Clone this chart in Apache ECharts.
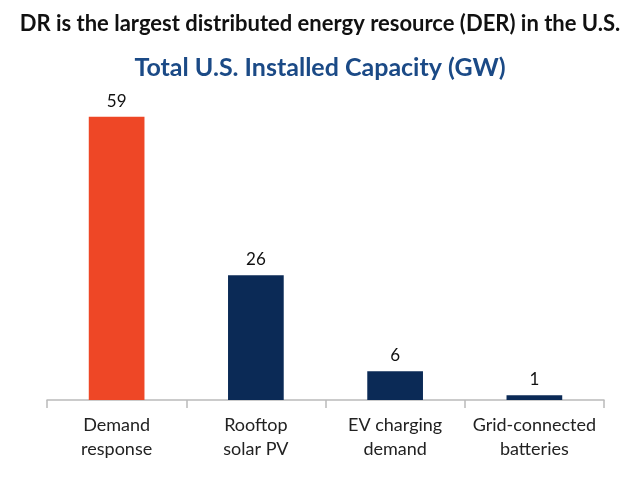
<!DOCTYPE html>
<html>
<head>
<meta charset="utf-8">
<script src="https://cdn.jsdelivr.net/npm/echarts@6/dist/echarts.min.js"></script>
<style>
  html, body { margin: 0; padding: 0; background: #fff; }
  #main { width: 640px; height: 480px; }
</style>
</head>
<body>
<div id="main"></div>
<script>
// 类别、数值
const categories = ['Demand\nresponse', 'Rooftop\nsolar PV', 'EV charging\ndemand', 'Grid-connected\nbatteries'];
const capacityGW = [59, 26, 6, 1];
const barColors = ['#EE4726', '#0B2A56', '#0B2A56', '#0B2A56'];

const chart = echarts.init(document.getElementById('main'));

const option = {
  backgroundColor: '#fff',
  title: [
    {
      text: 'DR is the largest distributed energy resource (DER) in the U.S.',
      left: 'center',
      top: 8,
      textStyle: { fontFamily: 'Lato', fontWeight: 'bold', fontSize: 22, color: '#111' }
    },
    {
      text: 'Total U.S. Installed Capacity (GW)',
      left: 'center',
      top: 50,
      textStyle: { fontFamily: 'Lato', fontWeight: 'bold', fontSize: 25, color: '#1B4A86' }
    }
  ],
  grid: { left: 47, right: 36, top: 112, bottom: 80 },
  xAxis: {
    type: 'category',
    data: categories,
    axisLine: { lineStyle: { color: '#BBBBBB', width: 1.5 } },
    axisTick: { show: true, length: 8, lineStyle: { color: '#BBBBBB', width: 1.5 } },
    axisLabel: {
      fontFamily: 'Lato', fontSize: 18, color: '#222', lineHeight: 24, margin: 13, interval: 0
    }
  },
  yAxis: {
    type: 'value',
    min: 0,
    max: 60,
    show: false
  },
  series: [{
    type: 'bar',
    barWidth: '40%',
    data: capacityGW.map((v, i) => ({ value: v, itemStyle: { color: barColors[i] } })),
    label: {
      show: true,
      position: 'top',
      distance: 7,
      fontFamily: 'Lato',
      fontSize: 17,
      color: '#111'
    }
  }]
};

chart.setOption(option);
</script>
</body>
</html>
